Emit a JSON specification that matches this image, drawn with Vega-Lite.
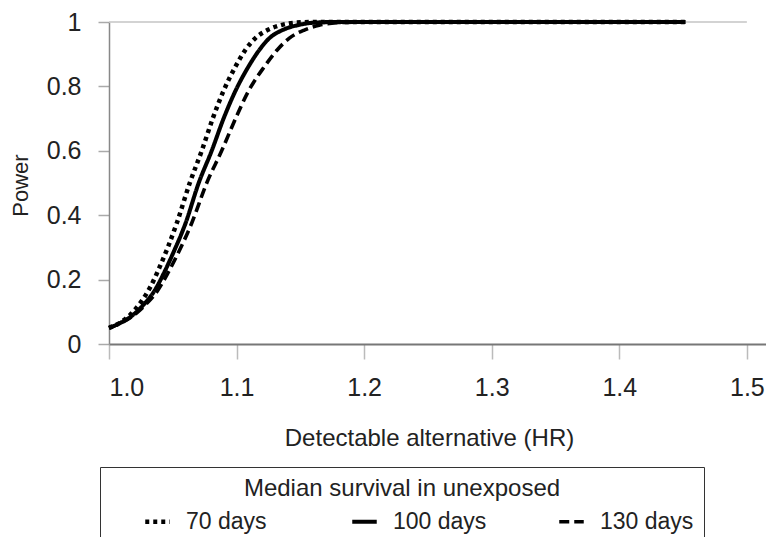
{
  "$schema": "https://vega.github.io/schema/vega-lite/v6.json",
  "width": 657,
  "height": 322,
  "autosize": {"type": "none"},
  "padding": {"left": 109, "top": 22, "right": 0, "bottom": 193},
  "background": "white",
  "config": {"view": {"stroke": null}, "font": "Liberation Sans"},
  "datasets": {
    "curves": [
      {"hr": 1.0, "power": 0.05, "group": "70 days"},
      {"hr": 1.0102, "power": 0.07, "group": "70 days"},
      {"hr": 1.0164, "power": 0.09, "group": "70 days"},
      {"hr": 1.025, "power": 0.13, "group": "70 days"},
      {"hr": 1.0328, "power": 0.18, "group": "70 days"},
      {"hr": 1.0398, "power": 0.24, "group": "70 days"},
      {"hr": 1.0461, "power": 0.30, "group": "70 days"},
      {"hr": 1.0531, "power": 0.375, "group": "70 days"},
      {"hr": 1.0633, "power": 0.50, "group": "70 days"},
      {"hr": 1.0727, "power": 0.60, "group": "70 days"},
      {"hr": 1.0813, "power": 0.70, "group": "70 days"},
      {"hr": 1.0891, "power": 0.78, "group": "70 days"},
      {"hr": 1.0992, "power": 0.862, "group": "70 days"},
      {"hr": 1.107, "power": 0.914, "group": "70 days"},
      {"hr": 1.1148, "power": 0.95, "group": "70 days"},
      {"hr": 1.1242, "power": 0.975, "group": "70 days"},
      {"hr": 1.1344, "power": 0.99, "group": "70 days"},
      {"hr": 1.1461, "power": 0.998, "group": "70 days"},
      {"hr": 1.161, "power": 1.0, "group": "70 days"},
      {"hr": 1.452, "power": 1.0, "group": "70 days"},
      {"hr": 1.0, "power": 0.05, "group": "100 days"},
      {"hr": 1.0086, "power": 0.065, "group": "100 days"},
      {"hr": 1.0164, "power": 0.083, "group": "100 days"},
      {"hr": 1.0266, "power": 0.12, "group": "100 days"},
      {"hr": 1.0359, "power": 0.167, "group": "100 days"},
      {"hr": 1.043, "power": 0.22, "group": "100 days"},
      {"hr": 1.05, "power": 0.28, "group": "100 days"},
      {"hr": 1.06, "power": 0.375, "group": "100 days"},
      {"hr": 1.0703, "power": 0.50, "group": "100 days"},
      {"hr": 1.0805, "power": 0.60, "group": "100 days"},
      {"hr": 1.0898, "power": 0.70, "group": "100 days"},
      {"hr": 1.0984, "power": 0.78, "group": "100 days"},
      {"hr": 1.1094, "power": 0.862, "group": "100 days"},
      {"hr": 1.118, "power": 0.914, "group": "100 days"},
      {"hr": 1.1258, "power": 0.95, "group": "100 days"},
      {"hr": 1.136, "power": 0.975, "group": "100 days"},
      {"hr": 1.1477, "power": 0.99, "group": "100 days"},
      {"hr": 1.161, "power": 0.998, "group": "100 days"},
      {"hr": 1.1766, "power": 1.0, "group": "100 days"},
      {"hr": 1.452, "power": 1.0, "group": "100 days"},
      {"hr": 1.0, "power": 0.05, "group": "130 days"},
      {"hr": 1.0094, "power": 0.065, "group": "130 days"},
      {"hr": 1.0172, "power": 0.083, "group": "130 days"},
      {"hr": 1.0281, "power": 0.12, "group": "130 days"},
      {"hr": 1.0383, "power": 0.167, "group": "130 days"},
      {"hr": 1.0461, "power": 0.22, "group": "130 days"},
      {"hr": 1.0539, "power": 0.28, "group": "130 days"},
      {"hr": 1.0648, "power": 0.375, "group": "130 days"},
      {"hr": 1.0766, "power": 0.50, "group": "130 days"},
      {"hr": 1.0883, "power": 0.60, "group": "130 days"},
      {"hr": 1.0992, "power": 0.70, "group": "130 days"},
      {"hr": 1.1086, "power": 0.78, "group": "130 days"},
      {"hr": 1.1219, "power": 0.862, "group": "130 days"},
      {"hr": 1.132, "power": 0.914, "group": "130 days"},
      {"hr": 1.1414, "power": 0.95, "group": "130 days"},
      {"hr": 1.1531, "power": 0.975, "group": "130 days"},
      {"hr": 1.1648, "power": 0.99, "group": "130 days"},
      {"hr": 1.1805, "power": 0.998, "group": "130 days"},
      {"hr": 1.1961, "power": 1.0, "group": "130 days"},
      {"hr": 1.452, "power": 1.0, "group": "130 days"}
    ],
    "ref": [{"hr": 1.0, "hr2": 1.5, "power": 1}]
  },
  "encoding": {
    "x": {
      "field": "hr", "type": "quantitative",
      "scale": {"domain": [1, 1.515], "nice": false, "zero": false},
      "axis": {
        "title": "Detectable alternative (HR)", "values": [1, 1.1, 1.2, 1.3, 1.4, 1.5], "format": ".1f",
        "grid": false, "domainColor": "#777", "domainWidth": 2, "tickColor": "#bbb", "tickWidth": 1.5, "tickSize": 15,
        "labelFontSize": 25, "labelColor": "#222", "labelPadding": 16, "labelFont": "Liberation Sans",
        "titleFontSize": 24, "titleFontWeight": "normal", "titleColor": "#222", "titleFont": "Liberation Sans",
        "titleX": 320, "titleY": 94, "titleBaseline": "middle"
      }
    },
    "y": {
      "field": "power", "type": "quantitative",
      "scale": {"domain": [0, 1], "nice": false},
      "axis": {
        "title": "Power", "values": [0, 0.2, 0.4, 0.6, 0.8, 1], "format": "~g",
        "grid": false, "domainColor": "#888", "domainWidth": 1.5, "tickColor": "#aaa", "tickWidth": 1.5, "tickSize": 11,
        "labelFontSize": 25, "labelColor": "#222", "labelPadding": 17, "labelFont": "Liberation Sans",
        "titleFontSize": 22, "titleFontWeight": "normal", "titleColor": "#222", "titleFont": "Liberation Sans",
        "titleX": -89, "titleY": 163, "titleBaseline": "middle", "titleAngle": -90
      }
    }
  },
  "layer": [
    {
      "data": {"name": "ref"},
      "mark": {"type": "rule", "color": "#c4c4c4", "strokeWidth": 1.5},
      "encoding": {"x2": {"field": "hr2"}}
    },
    {
      "data": {"name": "curves"},
      "mark": {"type": "line", "color": "black", "interpolate": "monotone", "strokeCap": "butt"},
      "encoding": {
        "strokeDash": {
          "field": "group", "type": "nominal",
          "scale": {"domain": ["70 days", "100 days", "130 days"], "range": [[4, 4], [1, 0], [10, 5]]},
          "legend": {
            "title": "Median survival in unexposed", "orient": "none", "legendX": -9, "legendY": 445,
            "direction": "horizontal", "columns": 3, "gridAlign": "all", "columnPadding": 37,
            "titleFontSize": 24, "titleFontWeight": "normal", "titleColor": "#222", "titleFont": "Liberation Sans",
            "titleAnchor": "middle", "titlePadding": 6, "titleLimit": 600,
            "labelFontSize": 23, "labelColor": "#222", "labelFont": "Liberation Sans", "labelOffset": 14,
            "symbolType": "stroke", "symbolSize": 600, "symbolStrokeWidth": 4, "symbolStrokeColor": "black",
            "symbolOffset": 33, "padding": 10, "strokeColor": "#333", "fillColor": "white"
          }
        },
        "strokeWidth": {
          "field": "group", "type": "nominal",
          "scale": {"domain": ["70 days", "100 days", "130 days"], "range": [4.5, 3.6, 4]},
          "legend": null
        }
      }
    }
  ]
}
